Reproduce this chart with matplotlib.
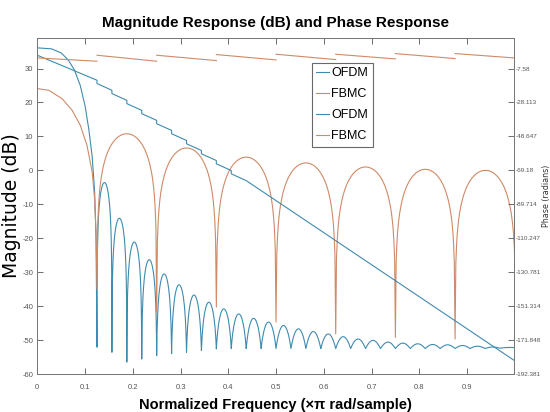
import numpy as np
import matplotlib
matplotlib.use("Agg")
import matplotlib.pyplot as plt

SANS = ['Liberation Sans', 'DejaVu Sans']

# ---------------- data ----------------
# OFDM magnitude: main lobe points (freq, dB)
ofdm_main_f = [0.0, 0.03, 0.05, 0.065, 0.078, 0.09, 0.1, 0.108, 0.115, 0.12, 0.123, 0.125]
ofdm_main_db = [36.1, 35.8, 34.6, 32.5, 29.5, 25.0, 19.0, 12.0, 4.0, -6.0, -20.0, -52.1]
# OFDM side lobes: null positions, trough level at each null, peak level per lobe
ofdm_nulls = [0.125, 0.15625, 0.1875, 0.21875, 0.25, 0.28125, 0.3125, 0.34375, 0.375,
              0.40625, 0.4375, 0.46875, 0.5, 0.53125, 0.5625, 0.59375, 0.625, 0.65625,
              0.6875, 0.71875, 0.75, 0.78125, 0.8125, 0.84375, 0.875, 0.90625, 0.9375,
              0.96875, 0.998]
ofdm_troughs = [-52.1, -53.6, -56.5, -55.6, -54.6, -54.0, -53.6, -53.1, -52.6, -52.5,
                -52.5, -52.5, -52.5, -52.5, -52.5, -52.5, -52.5, -52.5, -52.5, -52.5,
                -52.5, -52.5, -52.5, -52.5, -52.5, -52.5, -52.5, -52.4, -52.2]
ofdm_peaks = [-3.6, -14.1, -21.1, -26.3, -30.5, -33.7, -36.7, -38.8, -40.8, -42.3,
              -43.6, -44.7, -45.7, -46.7, -47.5, -48.2, -49.0, -49.7, -50.1, -50.6,
              -50.9, -51.1, -51.3, -51.4, -51.6, -51.8, -52.0, -52.1]

# FBMC magnitude: main lobe points
fbmc_main_f = [0.0, 0.024, 0.052, 0.073, 0.09, 0.104, 0.115, 0.12, 0.123, 0.125]
fbmc_main_db = [24.1, 23.6, 21.1, 17.7, 13.3, 7.4, -0.5, -8.4, -18.0, -35.0]
fbmc_nulls = [0.125, 0.25, 0.375, 0.5, 0.625, 0.75, 0.875, 1.002]
fbmc_troughs = [-35.0, -41.8, -40.3, -44.7, -48.2, -49.2, -49.7, -50.0]
fbmc_peaks = [10.8, 6.6, 3.9, 2.2, 1.0, 0.3, 0.0]

# OFDM phase (radians): small staircase at the nulls, then straight
ofdm_ph_f = [0.0, 0.125, 0.125, 0.15625, 0.15625, 0.1875, 0.1875, 0.21875, 0.21875,
             0.25, 0.25, 0.28125, 0.28125, 0.3125, 0.3125, 0.34375, 0.34375, 0.375, 0.375,
             0.40625, 0.40625, 0.4375, 0.998]
ofdm_ph = [0.47, -14.66, -16.66, -20.73, -22.73, -26.80, -28.80, -32.87, -34.87,
           -38.94, -40.94, -45.01, -47.01, -51.08, -53.08, -57.15, -59.15, -63.22, -65.22,
           -69.29, -71.29, -75.36, -184.0]

# FBMC phase (radians): saw-tooth segments
fbmc_ph_edges = [0.0, 0.125, 0.25, 0.375, 0.5, 0.625, 0.75, 0.875, 0.998]
fbmc_ph_start = [-1.13, 0.47, 0.47, 0.88, 1.08, 1.08, 1.48, 1.48]
fbmc_ph_end = [-3.16, -3.16, -2.76, -2.35, -2.15, -1.75, -1.54, -1.13]

xticks = [0, 0.1, 0.2, 0.3, 0.4, 0.5, 0.6, 0.7, 0.8, 0.9]
xticklabels = ['0', '0.1', '0.2', '0.3', '0.4', '0.5', '0.6', '0.7', '0.8', '0.9']
yticks = [-60, -50, -40, -30, -20, -10, 0, 10, 20, 30]
ph_ticks = [-192.381, -171.848, -151.314, -130.781, -110.247, -89.714, -69.18, -48.647, -28.113, -7.58]
ph_ticklabels = ['-192.381', '-171.848', '-151.314', '-130.781', '-110.247', '-89.714',
                 '-69.18', '-48.647', '-28.113', '-7.58']
legend_labels = ['OFDM', 'FBMC', 'OFDM', 'FBMC']

BLUE = '#3f8bb0'
ORANGE = '#cf8a66'


def lobes(nulls, troughs, peaks, n=80):
    fs, ds = [], []
    for i, p in enumerate(peaks):
        a, b = nulls[i], nulls[i + 1]
        t = np.linspace(0, 1, n)
        floor_db = troughs[i] + (troughs[i + 1] - troughs[i]) * t
        fl = 10 ** (floor_db / 20)
        pk = 10 ** (p / 20)
        base = 10 ** (max(troughs[i], troughs[i + 1]) / 20)
        lin = max(pk - base, 0) * np.sin(np.pi * t) + fl
        fs.append(a + (b - a) * t)
        ds.append(20 * np.log10(lin))
    return np.concatenate(fs), np.concatenate(ds)


fig = plt.figure(figsize=(5.5, 4.12), dpi=100)
ax = fig.add_axes([37.3 / 550, 1 - 374 / 412, 476.5 / 550, 336 / 412])
ax2 = ax.twinx()

of, od = lobes(ofdm_nulls, ofdm_troughs, ofdm_peaks)
ff, fd = lobes(fbmc_nulls, fbmc_troughs, fbmc_peaks)

l1, = ax.plot(np.concatenate([ofdm_main_f, of]), np.concatenate([ofdm_main_db, od]),
              color=BLUE, lw=0.8)
l2, = ax.plot(np.concatenate([fbmc_main_f, ff]), np.concatenate([fbmc_main_db, fd]),
              color=ORANGE, lw=0.8)

l3, = ax2.plot(ofdm_ph_f, ofdm_ph, color=BLUE, lw=0.8)
pf, pv = [], []
for i in range(len(fbmc_ph_start)):
    pf += [fbmc_ph_edges[i], fbmc_ph_edges[i + 1], np.nan]
    pv += [fbmc_ph_start[i], fbmc_ph_end[i], np.nan]
l4, = ax2.plot(pf, pv, color=ORANGE, lw=0.8)

top_db = 39.0
ax.set_xlim(0, 0.998)
ax.set_ylim(-60, top_db)
ax2.set_ylim(-192.381, -7.58 + (top_db - 30) * 2.05335)

tick_font = dict(family=SANS, size=5.5, color='#555555')
ax.set_xticks(xticks)
ax.set_xticklabels(xticklabels, **tick_font)
ax.set_yticks(yticks)
ax.set_yticklabels([str(v) for v in yticks], **tick_font)
ax2.set_yticks(ph_ticks)
ax2.set_yticklabels(ph_ticklabels, family=SANS, size=4.6, color='#555555')

ax.tick_params(axis='x', direction='in', top=True, length=4, width=0.6, color='#555555', pad=7)
ax.tick_params(axis='y', direction='in', length=4, width=0.6, color='#555555', pad=3)
ax2.tick_params(axis='y', direction='in', length=4, width=0.6, color='#555555', pad=1.5)
for a in (ax, ax2):
    for s in a.spines.values():
        s.set_color('#777777')
        s.set_linewidth(0.7)

ax.set_title('Magnitude Response (dB) and Phase Response', family=SANS,
             fontweight='bold', fontsize=11, pad=8)
ax.set_xlabel('Normalized Frequency (\u00d7\u03c0 rad/sample)', family=SANS,
              fontweight='bold', fontsize=10.5)
ax.xaxis.set_label_coords(0.5, -0.071)
ax.set_ylabel('Magnitude (dB)', family=['DejaVu Sans'], fontsize=13.5)
ax.yaxis.set_label_coords(-0.035, 0.5)
ax2.set_ylabel('Phase (radians)', family=['DejaVu Sans'], fontsize=5.8, color='#333333',
               rotation=90)
ax2.yaxis.set_label_coords(1.0585, 0.53)

leg = fig.legend([l1, l2, l3, l4], legend_labels, loc='upper left',
                 bbox_to_anchor=(312 / 550, 1 - 63 / 412),
                 prop=dict(family=SANS, size=9), frameon=True, fancybox=False,
                 handlelength=1.0, handletextpad=0.2, borderpad=0.35, labelspacing=0.72,
                 borderaxespad=0)
leg.get_frame().set_edgecolor('#444444')
leg.get_frame().set_linewidth(0.8)

fig.savefig('out.png', dpi=100)
